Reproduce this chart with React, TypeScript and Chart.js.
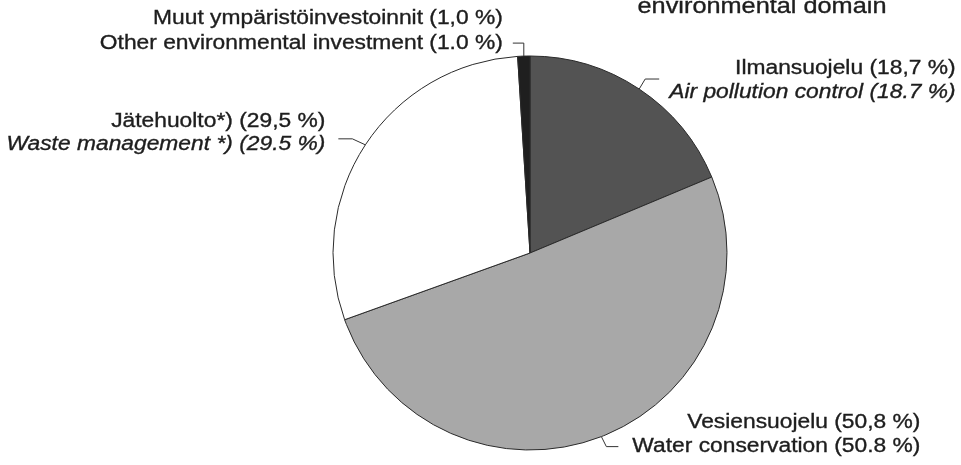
import React, { useEffect, useRef } from "react";
import { Chart, registerables } from "chart.js";

Chart.register(...registerables);

// ---- data ----
const categories = [
  "Air pollution control",
  "Water conservation",
  "Waste management",
  "Other environmental investment",
];
const shares = [18.7, 50.8, 29.5, 1.0];
const labelsFi = [
  "Ilmansuojelu (18,7 %)",
  "Vesiensuojelu (50,8 %)",
  "Jätehuolto*) (29,5 %)",
  "Muut ympäristöinvestoinnit (1,0 %)",
];
const labelsEn = [
  "Air pollution control (18.7 %)",
  "Water conservation (50.8 %)",
  "Waste management *) (29.5 %)",
  "Other environmental investment (1.0 %)",
];
const titleText = "environmental domain";

// ---- styles ----
const sliceColors = ["#535353", "#a8a8a8", "#ffffff", "#1f1f1f"];
const FONT = "'Liberation Sans', Arial, Helvetica, sans-serif";
const SX = 1.14;
const TEXT_COLOR = "#1e1e1e";

type LabelLayout = {
  elbow: [number, number];
  end: [number, number];
  side: "left" | "right";
  gap: number;
  dy1: number;
  dy2: number;
  italic2: boolean;
};
const layouts: LabelLayout[] = [
  { elbow: [6, -10], end: [20, -10], side: "right", gap: 10, dy1: -11, dy2: 13, italic2: true },
  { elbow: [5, 10], end: [17, 10], side: "right", gap: 14, dy1: -24, dy2: 0, italic2: false },
  { elbow: [-13, -6], end: [-27, -6], side: "left", gap: 13, dy1: -17, dy2: 6, italic2: true },
  { elbow: [0, -13], end: [-11, -13], side: "left", gap: 10, dy1: -25, dy2: 0, italic2: false },
];

function drawScaled(
  ctx: CanvasRenderingContext2D,
  text: string,
  x: number,
  y: number,
  font: string,
  align: CanvasTextAlign,
  sx: number
) {
  ctx.save();
  ctx.font = font;
  ctx.textAlign = align;
  ctx.textBaseline = "middle";
  ctx.fillStyle = TEXT_COLOR;
  ctx.strokeStyle = TEXT_COLOR;
  ctx.lineWidth = 0.35;
  ctx.translate(x, y);
  ctx.scale(sx, 1);
  ctx.fillText(text, 0, 0);
  ctx.strokeText(text, 0, 0);
  ctx.restore();
}

const labelPlugin = {
  id: "pieLabels",
  afterDraw(chart: any) {
    const ctx: CanvasRenderingContext2D = chart.ctx;
    const meta = chart.getDatasetMeta(0);
    const fontN = `20px ${FONT}`;
    const fontI = `italic 20px ${FONT}`;
    meta.data.forEach((arc: any, i: number) => {
      const p = arc.getProps(["x", "y", "startAngle", "endAngle", "outerRadius"], true);
      const mid = (p.startAngle + p.endAngle) / 2;
      const px = p.x + p.outerRadius * Math.cos(mid);
      const py = p.y + p.outerRadius * Math.sin(mid);
      const L = layouts[i];
      const ex = px + L.end[0];
      const ey = py + L.end[1];
      ctx.save();
      ctx.strokeStyle = "#333";
      ctx.lineWidth = 1;
      ctx.beginPath();
      ctx.moveTo(px, py);
      ctx.lineTo(px + L.elbow[0], py + L.elbow[1]);
      ctx.lineTo(ex, ey);
      ctx.stroke();
      ctx.restore();

      const f2 = L.italic2 ? fontI : fontN;
      let rightX: number;
      if (L.side === "left") {
        rightX = ex - L.gap;
      } else {
        ctx.save();
        ctx.font = fontN;
        const w1 = ctx.measureText(labelsFi[i]).width * SX;
        ctx.font = f2;
        const w2 = ctx.measureText(labelsEn[i]).width * SX;
        ctx.restore();
        rightX = ex + L.gap + Math.max(w1, w2);
      }
      drawScaled(ctx, labelsFi[i], rightX, ey + L.dy1, fontN, "right", SX);
      drawScaled(ctx, labelsEn[i], rightX, ey + L.dy2, f2, "right", SX);
    });

    // title (partially cut at top)
    ctx.save();
    ctx.font = `22px ${FONT}`;
    ctx.textAlign = "center";
    ctx.textBaseline = "alphabetic";
    ctx.fillStyle = TEXT_COLOR;
    ctx.strokeStyle = TEXT_COLOR;
    ctx.lineWidth = 0.35;
    ctx.translate(762, 13);
    ctx.scale(1.15, 1);
    ctx.fillText(titleText, 0, 0);
    ctx.strokeText(titleText, 0, 0);
    ctx.restore();
  },
};

export default function App() {
  const ref = useRef<HTMLCanvasElement | null>(null);
  useEffect(() => {
    if (!ref.current) return;
    const chart = new Chart(ref.current, {
      type: "pie",
      data: {
        labels: categories,
        datasets: [
          {
            data: shares,
            backgroundColor: sliceColors,
            borderColor: "#2a2a2a",
            borderWidth: 1,
            hoverOffset: 0,
            offset: 0,
          } as any,
        ],
      },
      options: {
        animation: false,
        responsive: false,
        devicePixelRatio: 1,
        rotation: 0,
        radius: 197,
        layout: { padding: { left: 99, right: 0, top: 41, bottom: 0 } },
        plugins: {
          legend: { display: false },
          tooltip: { enabled: false },
          title: { display: false },
        },
        events: [],
      } as any,
      plugins: [labelPlugin],
    });
    return () => chart.destroy();
  }, []);
  return (
    <div style={{ position: "fixed", left: 0, top: 0, width: 961, height: 465, background: "#fff" }}>
      <canvas ref={ref} width={961} height={465} style={{ width: 961, height: 465, display: "block" }} />
    </div>
  );
}
